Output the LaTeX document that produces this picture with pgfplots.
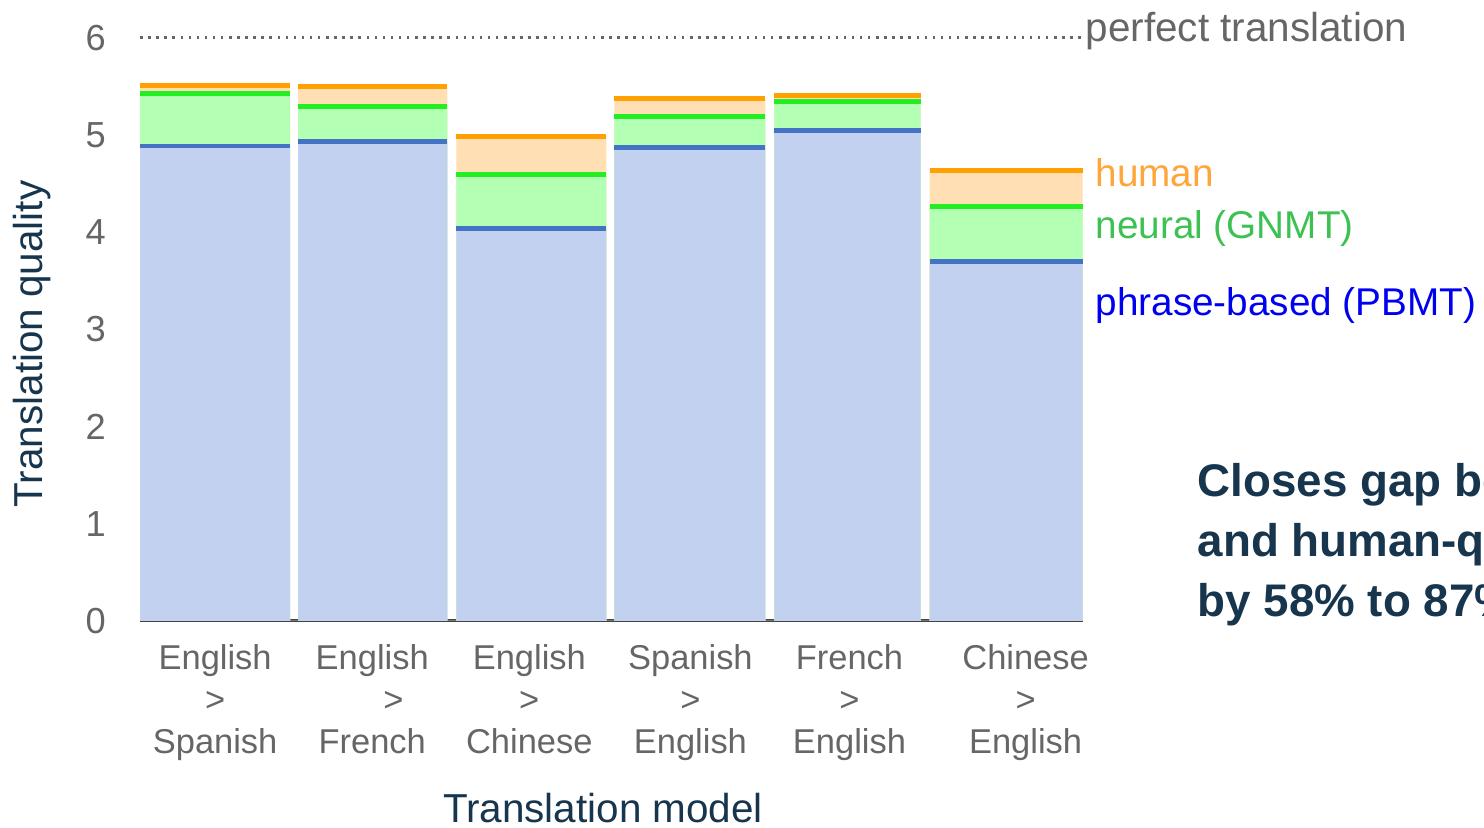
\documentclass[border=0pt]{standalone}
\usepackage{fontspec}
\setmainfont{Liberation Sans}
\usepackage{pgfplots}
\usepackage{pgfplotstable}
\pgfplotsset{compat=1.18}
\definecolor{blueFill}{HTML}{C2D1EF}
\definecolor{blueLine}{HTML}{4472C4}
\definecolor{greenFill}{HTML}{B3FFB3}
\definecolor{greenLine}{HTML}{22EE22}
\definecolor{orangeFill}{HTML}{FFDFB3}
\definecolor{orangeLine}{HTML}{FFA000}
\definecolor{humanTxt}{HTML}{FFA53A}
\definecolor{neuralTxt}{HTML}{3DC153}
\definecolor{pbmtTxt}{HTML}{0000F0}
\definecolor{navy}{HTML}{17354D}
\definecolor{tickGray}{HTML}{666666}
\definecolor{axisGray}{HTML}{444444}

% column edges (x) and scores: pbmt, gnmt, human
\pgfplotstableread{
x    pb    gn    hu
140  4.885 5.428 5.504
290  0     0     0
298  4.932 5.295 5.496
447  0     0     0
456  4.035 4.594 4.987
606  0     0     0
614  4.872 5.187 5.372
765  0     0     0
774  5.046 5.343 5.404
920  0     0     0
929  3.694 4.263 4.636
1082 3.694 4.263 4.636
}\fills

\pgfplotstableread{
x    pb    gn    hu
140  4.885 5.428 5.504
290  4.885 5.428 5.504
290  nan   nan   nan
298  4.932 5.295 5.496
447  4.932 5.295 5.496
447  nan   nan   nan
456  4.035 4.594 4.987
606  4.035 4.594 4.987
606  nan   nan   nan
614  4.872 5.187 5.372
765  4.872 5.187 5.372
765  nan   nan   nan
774  5.046 5.343 5.404
920  5.046 5.343 5.404
920  nan   nan   nan
929  3.694 4.263 4.636
1082 3.694 4.263 4.636
}\tops

\begin{document}
\begin{tikzpicture}[x=0.01cm,y=0.01cm]
\useasboundingbox (0,0) rectangle (1484,828);
\clip (0,0) rectangle (1484,828);
\begin{axis}[
  at={(140,213)}, anchor=south west,
  scale only axis, width=9.42cm, height=5.83cm,
  xmin=140, xmax=1082, ymin=0, ymax=6,
  clip=false,
  axis lines*=left,
  y axis line style={draw=none},
  x axis line style={draw=axisGray, line width=0.9pt},
  major tick length=0pt,
  ytick={0,1,2,3,4,5,6},
  xtick={215,372,529,690,849,1025},
  xticklabels={{English\\>\\Spanish},{English\\\hspace*{12pt}>\\French},{English\\>\\Chinese},
               {Spanish\\>\\English},{French\\>\\English},{Chinese\\>\\English}},
  /pgf/number format/assume math mode=true,
  yticklabel style={font=\fontsize{10.3}{12}\selectfont, color=tickGray, xshift=-0.22cm},
  xticklabel style={font=\fontsize{9.8}{11.97}\selectfont, color=tickGray, align=center, yshift=-0.11cm},
  unbounded coords=jump,
]
  \addplot[const plot, fill=orangeFill, draw=none] table[x=x, y=hu] {\fills} \closedcycle;
  \addplot[const plot, fill=greenFill, draw=none] table[x=x, y=gn] {\fills} \closedcycle;
  \addplot[const plot, fill=blueFill, draw=none] table[x=x, y=pb] {\fills} \closedcycle;
  \addplot[orangeLine, line width=1.4pt] table[x=x, y=hu] {\tops};
  \addplot[greenLine, line width=1.4pt] table[x=x, y=gn] {\tops};
  \addplot[blueLine, line width=1.4pt] table[x=x, y=pb] {\tops};
  \addplot[tickGray, line width=0.7pt, dash pattern=on 0.7pt off 1.6pt] coordinates {(140,6) (1082,6)};
\end{axis}
\node[anchor=base west, font=\fontsize{11.5}{13}\selectfont, text=tickGray, inner sep=0pt] at (1085,786) {perfect translation};
\node[anchor=base west, font=\fontsize{11}{13}\selectfont, text=humanTxt, inner sep=0pt] at (1095,641) {human};
\node[anchor=base west, font=\fontsize{11}{13}\selectfont, text=neuralTxt, inner sep=0pt] at (1095,589) {neural (GNMT)};
\node[anchor=base west, font=\fontsize{11}{13}\selectfont, text=pbmtTxt, inner sep=0pt] at (1095,512) {phrase-based (PBMT)};
\node[rotate=90, font=\fontsize{11.5}{13}\selectfont, text=navy, inner sep=0pt] at (32,484) {Translation quality};
\node[anchor=base, font=\fontsize{11.5}{13}\selectfont, text=navy, inner sep=0pt] at (603,5) {Translation model};
\node[anchor=base west, font=\fontsize{13}{17}\selectfont\bfseries, text=navy, inner sep=0pt] at (1197,331) {Closes gap between};
\node[anchor=base west, font=\fontsize{13}{17}\selectfont\bfseries, text=navy, inner sep=0pt] at (1197,271) {and human-quality};
\node[anchor=base west, font=\fontsize{13}{17}\selectfont\bfseries, text=navy, inner sep=0pt] at (1197,211) {by 58\% to 87\%};
\end{tikzpicture}
\end{document}
